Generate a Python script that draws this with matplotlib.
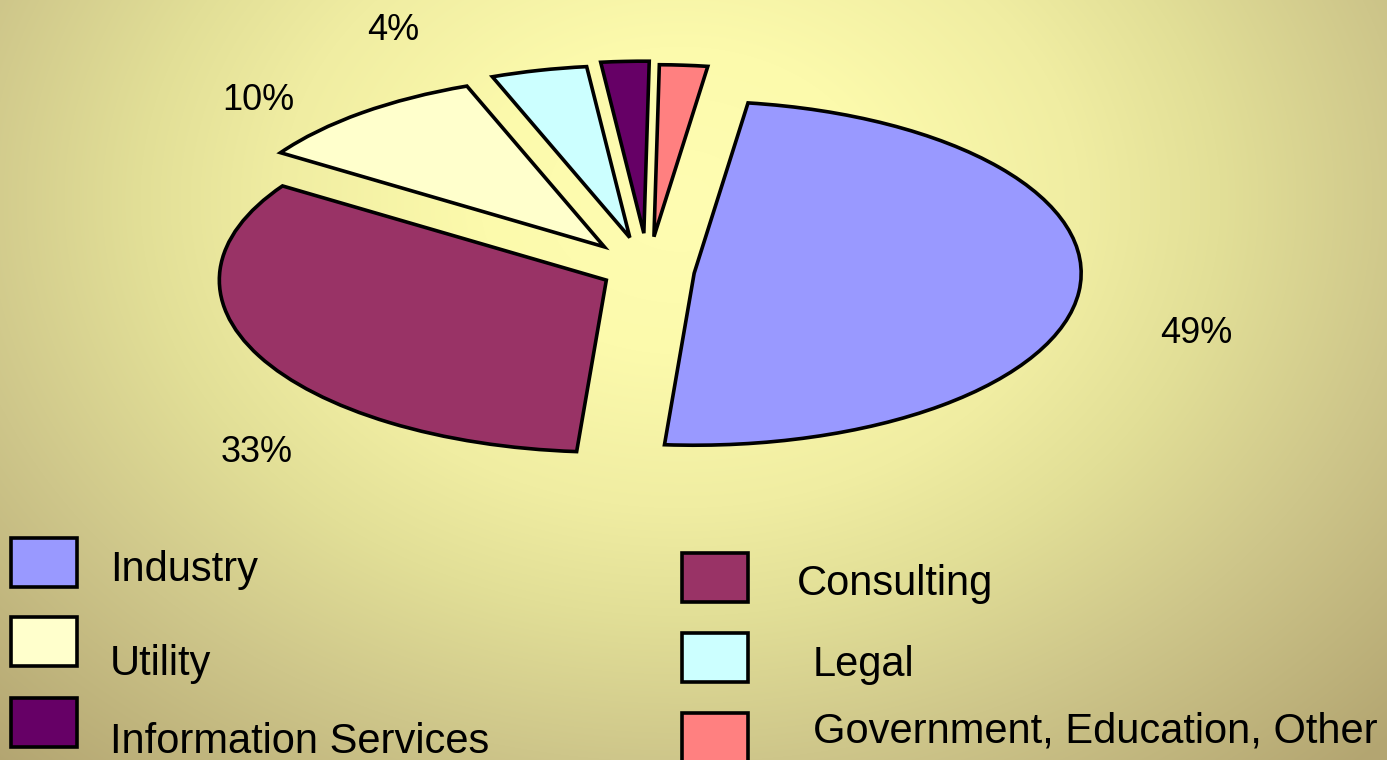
import numpy as np
import matplotlib
matplotlib.use("Agg")
import matplotlib.pyplot as plt
from matplotlib.patches import Rectangle

# data
categories = ["Industry", "Consulting", "Utility", "Legal",
              "Information Services", "Government, Education, Other"]
shares = [49, 33, 10, 4, 2, 2]
colors = ["#9999FF", "#993366", "#FFFFCC", "#CCFFFF", "#660066", "#FF8080"]

W, H = 1387, 760
plt.rcParams["font.family"] = ["Liberation Sans", "DejaVu Sans"]

fig = plt.figure(figsize=(W / 100, H / 100), dpi=100)


def fx(px):
    return px / W


def fy(py):
    return 1 - py / H


# background radial gradient
bg = fig.add_axes([0, 0, 1, 1])
yy, xx = np.mgrid[0:H, 0:W]
d = np.sqrt((xx - 680.0) ** 2 + ((yy - 200.0) * 1.3) ** 2)
stops = [0, 200, 400, 540, 730, 1000]
stop_cols = np.array([[255, 253, 178], [252, 250, 172], [240, 237, 162],
                      [226, 223, 151], [206, 198, 138], [179, 165, 113]]) / 255
img = np.dstack([np.interp(d, stops, stop_cols[:, i]) for i in range(3)])
bg.imshow(img, extent=[0, W, H, 0], aspect="auto")
bg.axis("off")

# pie, squashed into an ellipse
cx, cy, rx, ry = 648, 271, 387, 172
ax = fig.add_axes([fx(cx - 1.6 * rx), fy(cy + 1.5 * ry), fx(3.2 * rx), 3.0 * ry / H])
explode = [0.12, 0.12, 0.18, 0.2, 0.22, 0.2]
wedges, _ = ax.pie(shares, colors=colors, explode=explode, startangle=82,
                   counterclock=False,
                   wedgeprops=dict(edgecolor="black", linewidth=2.6))
ax.set_aspect("auto")
ax.set_xlim(-1.6, 1.6)
ax.set_ylim(-1.5, 1.5)
ax.set_facecolor("none")
ax.axis("off")

# percentage labels (only the larger slices are labelled)
label_pos = {"Industry": (1160, 343), "Consulting": (221, 462),
             "Utility": (222, 110), "Legal": (367, 40)}
for cat, v in zip(categories, shares):
    if cat in label_pos:
        px, py = label_pos[cat]
        fig.text(fx(px), fy(py), f"{v}%", fontsize=26, va="baseline", ha="left")

# legend, filled row by row in two columns
box_pos = [(11, 538), (682, 553), (11, 617), (682, 633), (11, 698), (682, 713)]
text_pos = [(110, 581), (797, 595), (110, 675), (813, 676), (110, 753), (813, 742)]
for i, cat in enumerate(categories):
    bx, by = box_pos[i]
    fig.add_artist(Rectangle((fx(bx), fy(by + 49)), fx(66), 49 / H,
                             facecolor=colors[i], edgecolor="black",
                             linewidth=2.6, transform=fig.transFigure))
    tx, ty = text_pos[i]
    fig.text(fx(tx), fy(ty), cat, fontsize=30, va="baseline", ha="left")

fig.savefig("out.png", dpi=100)
